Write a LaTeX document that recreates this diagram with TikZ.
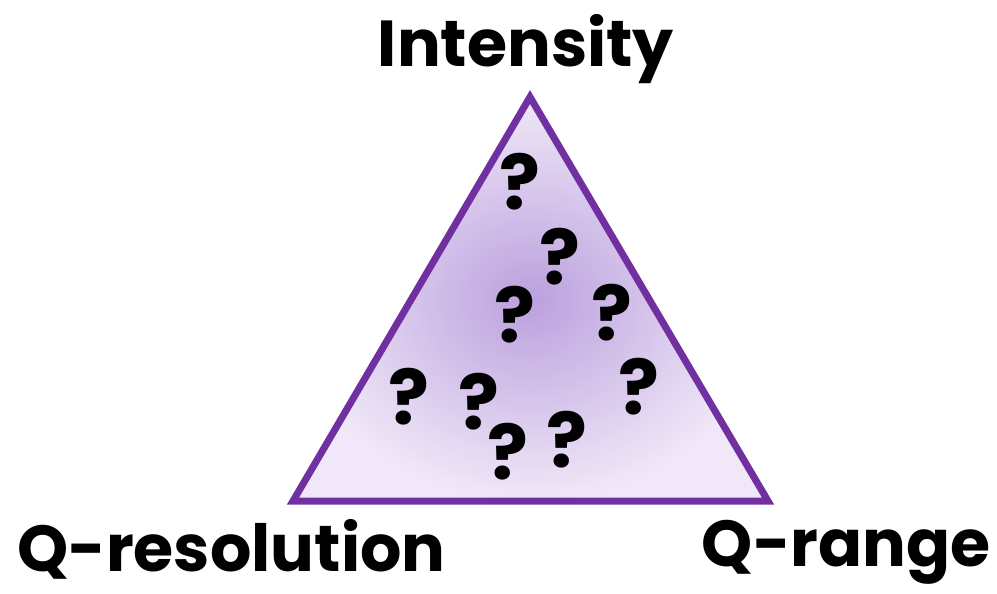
\documentclass[tikz,border=0pt]{standalone}
\usepackage{fontspec}
\setmainfont{Poppins}
\usetikzlibrary{positioning}

\definecolor{triedge}{HTML}{7030A0}
\definecolor{triinner}{HTML}{BBA0DE}
\definecolor{triouter}{HTML}{F0E8F8}

\begin{document}
\begin{tikzpicture}[
    x=1pt, y=-1pt,
    corner/.style={font=\fontsize{65}{70}\selectfont\bfseries, inner sep=0pt},
    qmark/.style={font=\fontsize{76}{80}\selectfont\bfseries, inner sep=0pt}
  ]
    \useasboundingbox (0,0) rectangle (997,594);

    % Triangle corners
    \coordinate (top)   at (530,97);
    \coordinate (left)  at (293,501);
    \coordinate (right) at (768,501);

    % Shaded triangle with purple edge
    \shade[inner color=triinner, outer color=triouter]
      (top) -- (left) -- (right) -- cycle;
    \draw[triedge, line width=7pt, line join=miter]
      (top) -- (left) -- (right) -- cycle;

    % Corner labels
    \node[corner, anchor=base]      (int) at (526,67)  {Intensity};
    \node[corner, anchor=base west] (res) at (17,571)  {Q-resolution};
    \node[corner, anchor=base east] (rng) at (991,566) {Q-range};

    % Question marks
    \foreach \px/\py [count=\i] in {520/182, 560/257, 515/315, 612/313,
        639/387, 409/397, 479/402, 508/452, 567/440}
      \node[qmark] (q\i) at (\px,\py) {?};
  \end{tikzpicture}
\end{document}
